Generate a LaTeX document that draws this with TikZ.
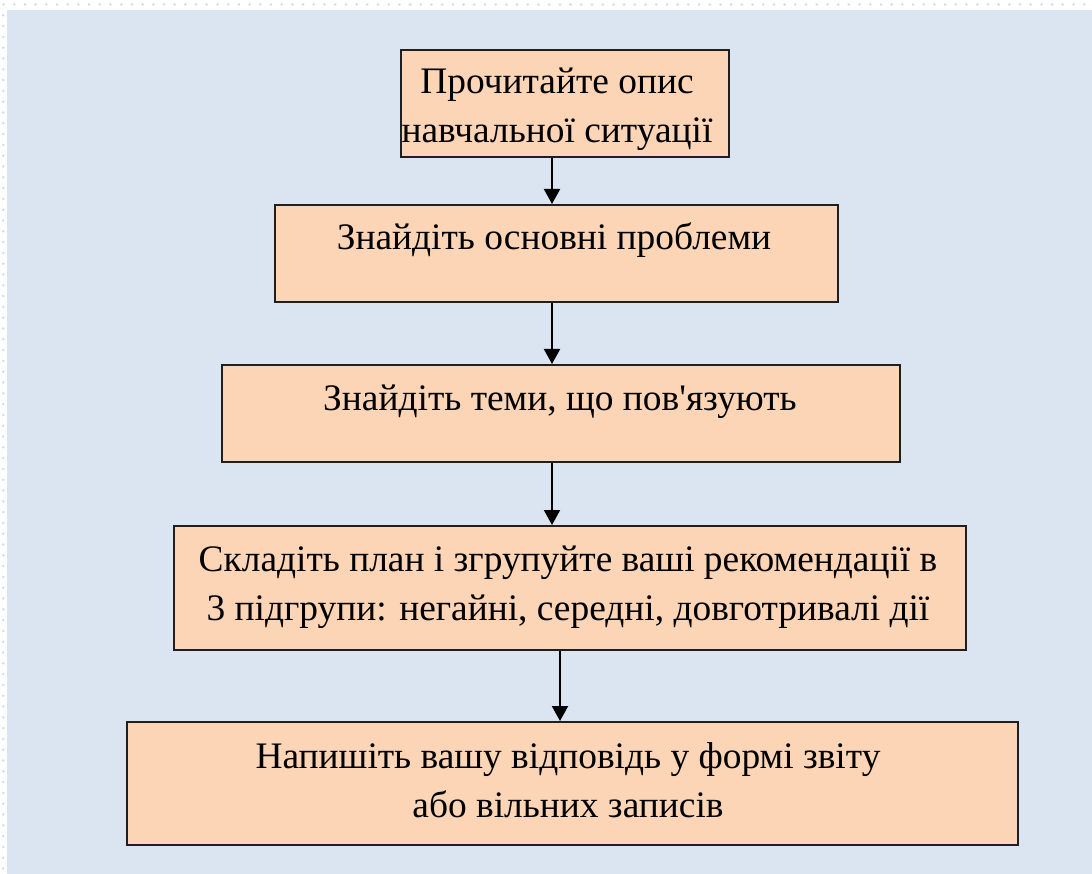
\documentclass[tikz,border=0pt]{standalone}
\usepackage{fontspec}
\setmainfont{Liberation Serif}[Ligatures=TeXOff]
\usetikzlibrary{arrows.meta}
\definecolor{pagebg}{HTML}{DBE5F1}
\definecolor{boxfill}{HTML}{FBD5B5}
\definecolor{dotblue}{HTML}{C6E0F4}
\tikzset{
  stepbox/.style={draw=black!88, line width=2pt, fill=boxfill, inner sep=0pt, anchor=north west},
  steptext/.style={font=\fontsize{37.4}{49}\selectfont, align=center, anchor=base, inner sep=0pt},
  flow/.style={line width=2pt, -{Triangle[width=16pt,length=15pt]}}
}
\begin{document}
\begin{tikzpicture}[x=1pt,y=-1pt]
  % page area and its dotted frame
  \fill[white] (0,0) rectangle (1092,874);
  \fill[pagebg] (7,10) rectangle (1092,874);
  \foreach \i in {0,...,101} {\fill[dotblue] (3.5+10.7*\i,4.5) circle (1.4pt);}
  \foreach \j in {1,...,80} {\fill[dotblue] (3.3,4.5+10.8*\j) circle (1.4pt);}
  \useasboundingbox (0,0) rectangle (1092,874);

  % steps of the procedure
  \node[stepbox, minimum width=328pt, minimum height=107pt] (b1) at (400,49) {};
  \node[stepbox, minimum width=563pt, minimum height=97pt]  (b2) at (274,204) {};
  \node[stepbox, minimum width=678pt, minimum height=97pt]  (b3) at (221,364) {};
  \node[stepbox, minimum width=792pt, minimum height=124pt] (b4) at (173,525) {};
  \node[stepbox, minimum width=891pt, minimum height=123pt] (b5) at (126,721) {};

  % texts, placed by the baseline of their last line
  \node[steptext] (t1) at (557,143) {Прочитайте опис\\навчальної ситуації};
  \node[steptext] (t2) at (554,250) {Знайдіть основні проблеми};
  \node[steptext] (t3) at (560,410) {Знайдіть теми, що пов'язують};
  \node[steptext] (t4) at (568,620) {Складіть план і згрупуйте ваші рекомендації в\\3 підгрупи: негайні, середні, довготривалі дії};
  \node[steptext] (t5) at (568,817) {Напишіть вашу відповідь у формі звіту\\або вільних записів};

  % connectors
  \coordinate (ax) at (552,0);
  \coordinate (bx) at (560,0);
  \draw[flow] (b1.south -| ax) -- (b2.north -| ax);
  \draw[flow] (b2.south -| ax) -- (b3.north -| ax);
  \draw[flow] (b3.south -| ax) -- (b4.north -| ax);
  \draw[flow] (b4.south -| bx) -- (b5.north -| bx);
\end{tikzpicture}
\end{document}
